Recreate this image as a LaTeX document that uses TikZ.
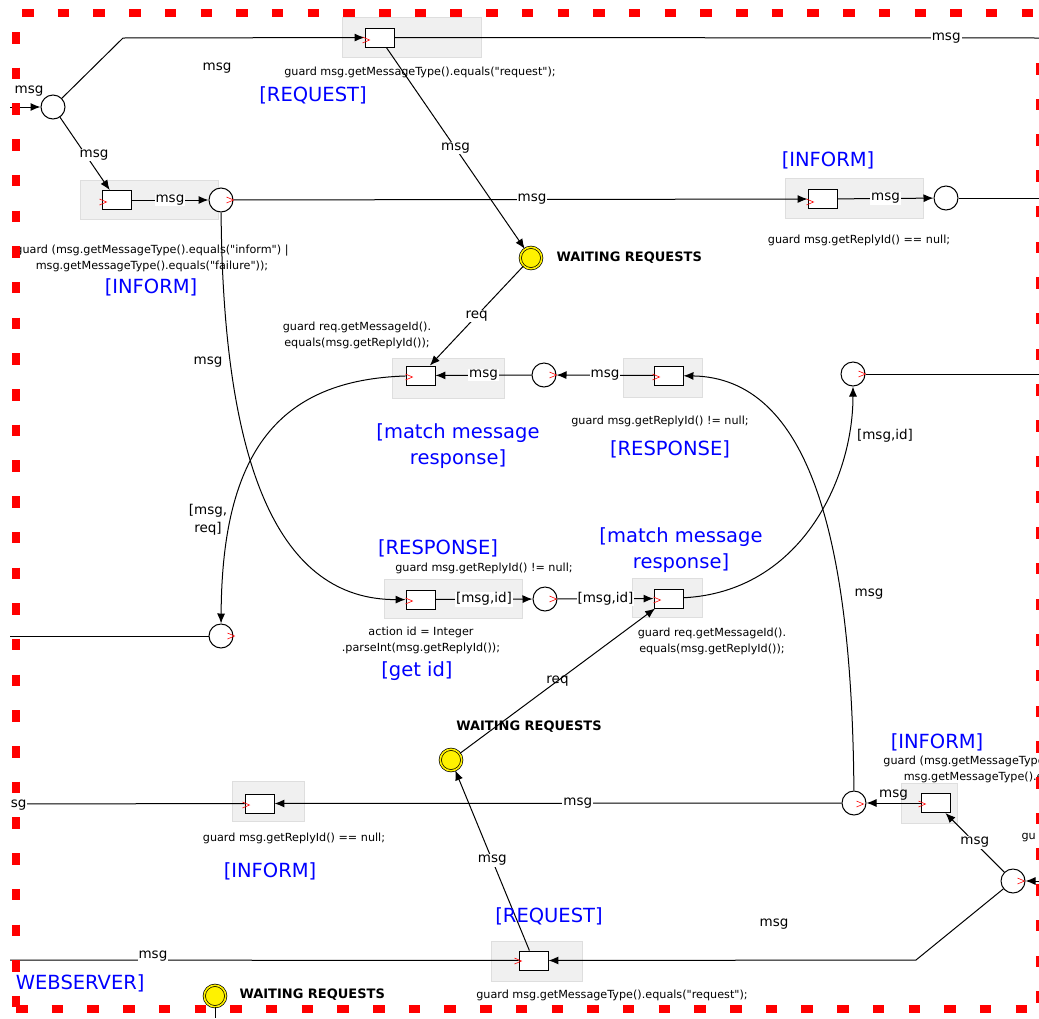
\documentclass[tikz,border=0pt]{standalone}
\usepackage{fontspec}
\setmainfont{DejaVu Sans}[Ligatures=TeXOff]
\usetikzlibrary{arrows.meta}
\definecolor{framegray}{RGB}{240,240,240}
\definecolor{frameline}{RGB}{222,222,222}

\tikzset{
  >={Latex[length=10pt,width=8pt]},
  place/.style={circle,draw,fill=white,minimum size=24pt,inner sep=0pt},
  waitplace/.style={circle,draw,fill=yellow,double=yellow,double distance=1.6pt,line width=0.7pt,minimum size=21.5pt,inner sep=0pt},
  trans/.style={rectangle,draw,fill=white,minimum width=29pt,minimum height=19pt,inner sep=0pt,line width=0.9pt},
  tframe/.style={fill=framegray,draw=frameline,line width=0.8pt},
  inmark/.style={red,line width=0.6pt},
  lbl/.style={font=\fontsize{13.5}{18}\selectfont,inner sep=1pt},
  lblw/.style={lbl,fill=white},
  guard/.style={font=\fontsize{11.2}{16}\selectfont,align=center,inner sep=0pt},
  tag/.style={text=blue,font=\fontsize{19.5}{26}\selectfont,align=center,inner sep=0pt},
  wait/.style={font=\bfseries\fontsize{13}{15}\selectfont,inner sep=0pt},
  border/.style={red,line width=8pt,dash pattern=on 11.5pt off 24.2pt}
}

\begin{document}
\begin{tikzpicture}[x=1pt,y=-1pt,line width=1pt]
\useasboundingbox (0,0) rectangle (1039,1018);

\begin{scope}
\clip (10,0) rectangle (1039,1018);

% grey frames behind the transitions
\foreach \xa/\ya/\xb/\yb in {342/17/481/57, 80/180/218/219, 785/178/923/218,
  392/358/504/398, 623/358/702/397, 384/579/522/618, 632/578/702/617,
  232/781/304/821, 901/783/957/823, 491/941/582/981}
  \draw[tframe] (\xa,\ya) rectangle (\xb,\yb);

% places
\node[place] (p1) at (53,107) {};
\node[place] (p2) at (221,200) {};
\node[place] (p3) at (946,198) {};
\node[place] (p4) at (544,375) {};
\node[place] (p5) at (853,374) {};
\node[place] (p6) at (221,636) {};
\node[place] (p7) at (545,599) {};
\node[place] (p8) at (854,803) {};
\node[place] (p9) at (1013,881) {};
\node[waitplace] (wr1) at (531,258) {};
\node[waitplace] (wr2) at (451,760) {};
\node[waitplace] (wr3) at (215,996) {};

% transitions
\node[trans] (t1) at (379.5,37.5) {};
\node[trans] (t2) at (116.5,200) {};
\node[trans] (t3) at (822.5,199) {};
\node[trans] (t4) at (420.5,375.5) {};
\node[trans] (t5) at (668.5,375.5) {};
\node[trans] (t6) at (420.5,599.5) {};
\node[trans] (t7) at (668.5,598.5) {};
\node[trans] (t8) at (259.5,803.5) {};
\node[trans] (t9) at (935.5,803) {};
\node[trans] (t10) at (533.5,960.5) {};

% free ends
\coordinate (in1) at (10,107);
\coordinate (in2) at (10,636);
\coordinate (in3) at (1039,881);
\coordinate (out1) at (1039,38);
\coordinate (out2) at (1039,198);
\coordinate (out3) at (1039,374);
\coordinate (out4) at (0,804);
\coordinate (out5) at (0,960);
\coordinate (down3) at (215,1018);
\coordinate (k1) at (123,38);
\coordinate (k2) at (916,960);

% arcs
\draw[->] (in1) -- (p1);
\draw[->] (p1) -- (k1) -- (t1);
\draw (t1) -- node[lblw,pos=0.856]{msg} (out1);
\draw[->] (p1) -- (t2);
\node[lblw] at (94,155) {msg};
\draw[->] (t2) -- node[lblw]{msg} (p2);
\draw[->] (p2) -- node[lblw,pos=0.52]{msg} (t3);
\draw[->] (t3) -- node[lblw]{msg} (p3);
\draw (p3) -- (out2);
\draw[->] (t1) -- node[lblw]{msg} (wr1);
\draw[->] (wr1) -- node[lblw]{req} (t4);
\draw[->] (p2) .. controls (223,470) and (280,600) .. (t6);
\draw[->] (p4) -- node[lblw]{msg} (t4);
\draw[->] (t5) -- node[lblw]{msg} (p4);
\draw[->] (p8) .. controls (852,540) and (810,378) .. (t5);
\draw[->] (t4) .. controls (280,380) and (222,450) .. (p6);
\draw (in2) -- (p6);
\draw[->] (t6) -- node[lblw]{[msg,id]} (p7);
\draw[->] (p7) -- node[lblw]{[msg,id]} (t7);
\draw[->] (t7) .. controls (800,592) and (853,480) .. (p5);
\draw (p5) -- (out3);
\draw[->] (wr2) -- node[lbl]{req} (t7);
\draw[->] (t10) -- node[lblw]{msg} (wr2);
\draw[->] (p8) -- node[lblw,pos=0.465]{msg} (t8);
\draw (t8) -- (out4);
\node[lblw] at (12,805) {msg};
\draw[->] (t9) -- node[lbl,above=1pt]{msg} (p8);
\draw[->] (p9) -- node[lblw]{msg} (t9);
\draw[->] (in3) -- (p9);
\draw[->] (p9) -- (k2) -- (t10);
\draw (t10) -- node[lblw,pos=0.705,yshift=4pt]{msg} (out5);
\draw (wr3) -- (down3);

% loose arc labels
\node[lbl] at (29,91) {msg};
\node[lbl] at (217,68) {msg};
\node[lbl] at (208,362) {msg};
\node[lbl,align=center] at (208,520) {[msg,\\req]};
\node[lbl] at (885,436) {[msg,id]};
\node[lbl] at (869,594) {msg};
\node[lbl] at (774,924) {msg};

% red input marks
\foreach \x/\y in {366/40, 103/202, 230/200, 810/202, 409/377, 553/375, 656/377,
  409/601, 553/599, 657/600, 862/374, 231/636, 246/805, 860/804, 922/804,
  1021/881, 518/961}
  \draw[inmark] (\x-3.5,\y-3) -- (\x+3.5,\y) -- (\x-3.5,\y+3);

% guards and names
\node[guard] at (420,72) {guard msg.getMessageType().equals("request");};
\node[tag] at (313,95) {[REQUEST]};
\node[guard] at (152,258) {guard (msg.getMessageType().equals("inform") |\\msg.getMessageType().equals("failure"));};
\node[tag] at (151,287) {[INFORM]};
\node[tag] at (828,160) {[INFORM]};
\node[guard] at (859,240) {guard msg.getReplyId() == null;};
\node[wait,anchor=west] at (556,258) {WAITING REQUESTS};
\node[guard] at (357,335) {guard req.getMessageId().\\equals(msg.getReplyId());};
\node[tag] at (458,446) {[match message\\response]};
\node[guard] at (660,421) {guard msg.getReplyId() != null;};
\node[tag] at (670,449) {[RESPONSE]};
\node[tag] at (438,548) {[RESPONSE]};
\node[guard] at (484,568) {guard msg.getReplyId() != null;};
\node[tag] at (681,550) {[match message\\response]};
\node[guard] at (421,640) {action id = Integer\\.parseInt(msg.getReplyId());};
\node[tag] at (417,671) {[get id]};
\node[guard] at (712,641) {guard req.getMessageId().\\equals(msg.getReplyId());};
\node[wait] at (529,727) {WAITING REQUESTS};
\node[tag] at (937,742) {[INFORM]};
\node[guard] at (1020,769) {guard (msg.getMessageType().equals("inform") |\\msg.getMessageType().equals("failure"));};
\node[guard,anchor=west] at (1021,838) {gu};
\node[guard] at (294,838) {guard msg.getReplyId() == null;};
\node[tag] at (270,871) {[INFORM]};
\node[tag] at (549,916) {[REQUEST]};
\node[guard] at (612,995) {guard msg.getMessageType().equals("request");};
\node[tag,anchor=east] at (145,983) {[TO WEBSERVER]};
\node[wait,anchor=west] at (239,995) {WAITING REQUESTS};
\end{scope}

% dashed red frame
\draw[border] (22,13) -- (1039,13);
\draw[border] (16,32) -- (16,1018);
\draw[border] (16,1009) -- (1039,1009);
\draw[border] (1040,63) -- (1040,1018);
\end{tikzpicture}
\end{document}
